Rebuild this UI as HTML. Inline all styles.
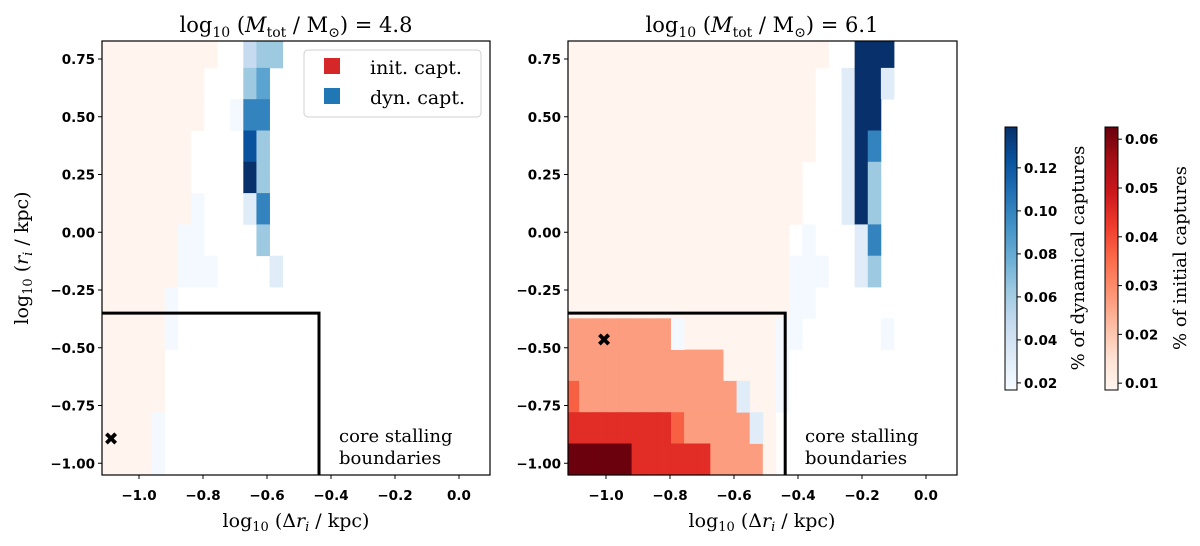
<!DOCTYPE html>
<html><head><meta charset="utf-8"><style>
html,body{margin:0;padding:0;background:#fff;}
svg{display:block;}
.tk{font-family:"DejaVu Sans","Liberation Sans",sans-serif;font-weight:bold;font-size:13.5px;fill:#000;}
.sf{font-family:"DejaVu Serif","Liberation Serif",serif;fill:#000;}
</style></head><body>
<svg id="fig" width="1200" height="546" viewBox="0 0 1200 546" xmlns="http://www.w3.org/2000/svg">
<defs>
<clipPath id="clipL"><rect x="102" y="41" width="388" height="434"/></clipPath>
<clipPath id="clipR"><rect x="568" y="41" width="389" height="434"/></clipPath>
<linearGradient id="gBlue" x1="0" y1="1" x2="0" y2="0">
<stop offset="0" stop-color="#f7fbff"/><stop offset="0.125" stop-color="#deebf7"/><stop offset="0.25" stop-color="#c6dbef"/><stop offset="0.375" stop-color="#9ecae1"/><stop offset="0.5" stop-color="#6baed6"/><stop offset="0.625" stop-color="#4292c6"/><stop offset="0.75" stop-color="#2171b5"/><stop offset="0.875" stop-color="#08519c"/><stop offset="1" stop-color="#08306b"/>
</linearGradient>
<linearGradient id="gRed" x1="0" y1="1" x2="0" y2="0">
<stop offset="0" stop-color="#fff5f0"/><stop offset="0.125" stop-color="#fee0d2"/><stop offset="0.25" stop-color="#fcbba1"/><stop offset="0.375" stop-color="#fc9272"/><stop offset="0.5" stop-color="#fb6a4a"/><stop offset="0.625" stop-color="#ef3b2c"/><stop offset="0.75" stop-color="#cb181d"/><stop offset="0.875" stop-color="#a50f15"/><stop offset="1" stop-color="#67000d"/>
</linearGradient>
</defs>
<g id="cellsL" clip-path="url(#clipL)"></g>
<g id="cellsR" clip-path="url(#clipR)"></g>
<g id="axesG"></g>

<text class="sf" x="296" y="32" text-anchor="middle" font-size="21">log<tspan font-size="14" dy="5">10</tspan><tspan dy="-5"> (</tspan><tspan font-style="italic">M</tspan><tspan font-size="14" dy="5">tot</tspan><tspan dy="-5"> / M</tspan><tspan font-size="14" dy="5">⊙</tspan><tspan dy="-5">) = 4.8</tspan></text>
<text class="sf" x="762" y="32" text-anchor="middle" font-size="21">log<tspan font-size="14" dy="5">10</tspan><tspan dy="-5"> (</tspan><tspan font-style="italic">M</tspan><tspan font-size="14" dy="5">tot</tspan><tspan dy="-5"> / M</tspan><tspan font-size="14" dy="5">⊙</tspan><tspan dy="-5">) = 6.1</tspan></text>

<text class="sf" x="296" y="527" text-anchor="middle" font-size="19">log<tspan font-size="13" dy="4">10</tspan><tspan dy="-4"> (Δ</tspan><tspan font-style="italic">r</tspan><tspan font-size="13" dy="4" font-style="italic">i</tspan><tspan dy="-4"> / kpc)</tspan></text>
<text class="sf" x="762" y="527" text-anchor="middle" font-size="19">log<tspan font-size="13" dy="4">10</tspan><tspan dy="-4"> (Δ</tspan><tspan font-style="italic">r</tspan><tspan font-size="13" dy="4" font-style="italic">i</tspan><tspan dy="-4"> / kpc)</tspan></text>
<text class="sf" transform="translate(28,258) rotate(-90)" text-anchor="middle" font-size="19">log<tspan font-size="13" dy="4">10</tspan><tspan dy="-4"> (</tspan><tspan font-style="italic">r</tspan><tspan font-size="13" dy="4" font-style="italic">i</tspan><tspan dy="-4"> / kpc)</tspan></text>

<text class="sf" x="339" y="442" font-size="18">core stalling</text>
<text class="sf" x="339" y="464" font-size="18">boundaries</text>
<text class="sf" x="805" y="442" font-size="18">core stalling</text>
<text class="sf" x="805" y="464" font-size="18">boundaries</text>

<g>
<rect x="304" y="50" width="177" height="67" rx="4" fill="#fff" fill-opacity="0.85" stroke="#d0d0d0" stroke-width="1"/>
<rect x="324" y="58" width="16" height="16" fill="#d62728"/>
<text class="sf" x="370" y="74" font-size="19">init. capt.</text>
<rect x="324" y="88" width="16" height="16" fill="#1f77b4"/>
<text class="sf" x="370" y="104" font-size="19">dyn. capt.</text>
</g>

<rect x="1005" y="127" width="12" height="263" fill="url(#gBlue)" stroke="#000" stroke-width="1"/>
<rect x="1105" y="127" width="13" height="263" fill="url(#gRed)" stroke="#000" stroke-width="1"/>
<text class="sf" transform="translate(1084,258) rotate(-90)" text-anchor="middle" font-size="18">% of dynamical captures</text>
<text class="sf" transform="translate(1186,258) rotate(-90)" text-anchor="middle" font-size="18">% of initial captures</text>
<g id="cbTicks"></g>
</svg>
<script>
const xTicks = [-1.0, -0.8, -0.6, -0.4, -0.2, 0.0];
const xTickLabels = ["\u22121.0", "\u22120.8", "\u22120.6", "\u22120.4", "\u22120.2", "0.0"];
const yTicks = [0.75, 0.5, 0.25, 0.0, -0.25, -0.5, -0.75, -1.0];
const yTickLabels = ["0.75", "0.50", "0.25", "0.00", "\u22120.25", "\u22120.50", "\u22120.75", "\u22121.00"];
const blueCbTicks = [0.02, 0.04, 0.06, 0.08, 0.10, 0.12];
const redCbTicks = [0.01, 0.02, 0.03, 0.04, 0.05, 0.06];
const blueRange = [0.0167, 0.139];
const redRange = [0.0086, 0.0625];
const gridX0 = -1.125, gridDX = 0.041;
const gridYTop = 0.847, gridDY = 0.1355;
const leftRed = [[0,0,8,0.009],[1,0,7,0.009],[2,0,7,0.009],[3,0,6,0.009],[4,0,6,0.009],[5,0,6,0.009],[6,0,5,0.009],[7,0,5,0.009],[8,0,4,0.009],[9,0,4,0.009],[10,0,4,0.009],[11,0,4,0.009],[12,0,3,0.009],[13,0,3,0.009]];
const leftBlue = [[2,10,10,0.019],[5,7,7,0.019],[6,6,7,0.019],[7,6,8,0.019],[8,5,5,0.019],[9,5,5,0.019],[12,4,4,0.019],[13,4,4,0.019],
  [0,11,11,0.047],[0,12,13,0.063],[1,11,11,0.063],[1,12,12,0.084],[2,11,12,0.1],[3,11,11,0.123],[3,12,12,0.063],[4,11,11,0.139],[4,12,12,0.063],[5,11,11,0.031],[5,12,12,0.1],[6,12,12,0.063],[7,13,13,0.031]];
const rightRed = [[0,0,19,0.009],[1,0,18,0.009],[2,0,18,0.009],[3,0,18,0.009],[4,0,17,0.009],[5,0,17,0.009],[6,0,16,0.009],[7,0,16,0.009],[8,0,16,0.009],
  [9,0,7,0.027],[9,9,15,0.009],[10,0,11,0.027],[10,12,15,0.009],
  [11,0,0,0.037],[11,1,12,0.027],[11,14,15,0.009],
  [12,0,7,0.045],[12,8,8,0.037],[12,9,13,0.027],[12,15,15,0.009],
  [13,0,4,0.062],[13,5,10,0.045],[13,11,14,0.027],[13,15,15,0.009]];
const rightBlue = [[9,8,8,0.019],[9,16,16,0.019],[10,16,16,0.019],[11,13,13,0.031],[11,16,16,0.019],[12,14,14,0.031],
  [1,21,21,0.031],[2,21,21,0.031],[3,21,21,0.031],[4,21,21,0.031],[5,21,21,0.031],
  [0,22,24,0.139],[1,22,23,0.139],[1,24,24,0.031],[2,22,23,0.139],[3,22,22,0.139],[3,23,23,0.1],[4,22,22,0.139],[4,23,23,0.063],[5,22,22,0.139],[5,23,23,0.063],[6,22,22,0.031],[6,23,23,0.1],[7,22,22,0.031],[7,23,23,0.063],
  [6,18,18,0.019],[7,17,19,0.019],[8,17,18,0.019],[9,17,17,0.019],[9,24,24,0.019]];
const boxLeft = [-0.4375, -0.35];
const boxRight = [-0.44, -0.35];
const markerLeft = [-1.0875, -0.895];
const markerRight = [-1.006, -0.466];

const NS = "http://www.w3.org/2000/svg";
const panels = [{x0:139, left:102, right:490}, {x0:606, left:568, right:957}];
const kx = 320, ky = 231, yZero = 59 + 0.75*ky;
function sx(p, v){ return panels[p].x0 + (v + 1.0)*kx; }
function sy(v){ return yZero - v*ky; }
const axTop = 41, axBot = 475;
const BLUES = ["#f7fbff","#deebf7","#c6dbef","#9ecae1","#6baed6","#4292c6","#2171b5","#08519c","#08306b"];
const REDS = ["#fff5f0","#fee0d2","#fcbba1","#fc9272","#fb6a4a","#ef3b2c","#cb181d","#a50f15","#67000d"];
function hex(c){return [parseInt(c.substr(1,2),16),parseInt(c.substr(3,2),16),parseInt(c.substr(5,2),16)];}
function cmap(stops, t){
  t = Math.max(0, Math.min(1, t));
  const f = t*(stops.length-1), i = Math.min(stops.length-2, Math.floor(f)), u = f - i;
  const a = hex(stops[i]), b = hex(stops[i+1]);
  return "rgb(" + a.map((v,k)=>Math.round(v+(b[k]-v)*u)).join(",") + ")";
}
function mk(tag, attrs, parent){
  const e = document.createElementNS(NS, tag);
  for (const k in attrs) e.setAttribute(k, attrs[k]);
  parent.appendChild(e); return e;
}
function drawCells(p, runs, stops, range, gid, kind){
  const g = document.getElementById(gid);
  runs.forEach(r => {
    const [row, c0, c1, val] = r;
    for (let c = c0; c <= c1; c++){
      const xa = sx(p, gridX0 + c*gridDX), xb = sx(p, gridX0 + (c+1)*gridDX);
      const ya = sy(gridYTop - row*gridDY), yb = sy(gridYTop - (row+1)*gridDY);
      const col = cmap(stops, (val - range[0])/(range[1]-range[0]));
      const el = mk("rect", {x:xa, y:ya, width:xb-xa+0.4, height:yb-ya+0.4, fill:col}, g);
      
      
    }
  });
}
drawCells(0, leftRed, REDS, redRange, "cellsL", "left-initial");
drawCells(0, leftBlue, BLUES, blueRange, "cellsL", "left-dynamical");
drawCells(1, rightRed, REDS, redRange, "cellsR", "right-initial");
drawCells(1, rightBlue, BLUES, blueRange, "cellsR", "right-dynamical");

const ag = document.getElementById("axesG");
[0,1].forEach(p => {
  const P = panels[p];
  const side = p === 0 ? "left" : "right";
  const box = p === 0 ? boxLeft : boxRight;
  const bx = sx(p, box[0]), by = sy(box[1]);
  const bl = mk("polyline", {points: P.left+","+by+" "+bx+","+by+" "+bx+","+axBot, fill:"none", stroke:"#000", "stroke-width":3}, ag);
  
  
  const m = p === 0 ? markerLeft : markerRight;
  const mx = mk("text", {x: sx(p, m[0]), y: sy(m[1]) + 6, "text-anchor":"middle", "font-size":"18", "font-weight":"bold", "font-family":"DejaVu Sans, sans-serif"}, ag);
  mx.textContent = "\u2716";
  
  
  const fr = mk("rect", {x:P.left, y:axTop, width:P.right-P.left, height:axBot-axTop, fill:"none", stroke:"#000", "stroke-width":1.2}, ag);
  
  
  xTicks.forEach((v,i) => {
    const x = sx(p, v);
    mk("line", {x1:x, x2:x, y1:axBot, y2:axBot+4, stroke:"#000", "stroke-width":1}, ag);
    const t = mk("text", {x:x, y:500, "text-anchor":"middle", class:"tk"}, ag);
    t.textContent = xTickLabels[i];
    
    
  });
  yTicks.forEach((v,i) => {
    const y = sy(v);
    mk("line", {x1:P.left-4, x2:P.left, y1:y, y2:y, stroke:"#000", "stroke-width":1}, ag);
    const t = mk("text", {x:P.left-7, y:y+5, "text-anchor":"end", class:"tk"}, ag);
    t.textContent = yTickLabels[i];
    
    
  });
});
const cg = document.getElementById("cbTicks");
function cbY(v, range){ return 390 - (v - range[0])/(range[1]-range[0])*263; }
blueCbTicks.forEach(v => {
  const y = cbY(v, blueRange);
  mk("line", {x1:1017, x2:1021, y1:y, y2:y, stroke:"#000"}, cg);
  const t = mk("text", {x:1024, y:y+5, class:"tk"}, cg);
  t.textContent = v.toFixed(2);
  
  
});
redCbTicks.forEach(v => {
  const y = cbY(v, redRange);
  mk("line", {x1:1118, x2:1122, y1:y, y2:y, stroke:"#000"}, cg);
  const t = mk("text", {x:1125, y:y+5, class:"tk"}, cg);
  t.textContent = v.toFixed(2);
  
  
});
</script>
</body></html>
